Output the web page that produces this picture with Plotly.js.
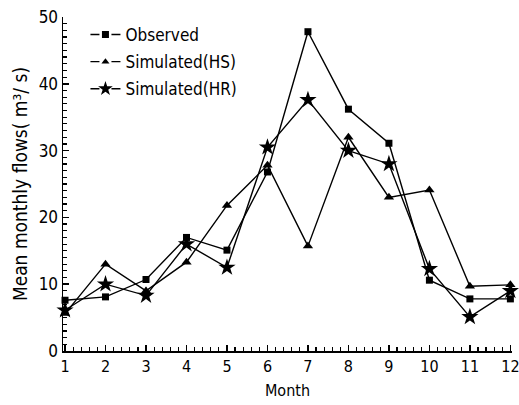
<!DOCTYPE html>
<html>
<head>
<meta charset="utf-8">
<script src="https://cdn.plot.ly/plotly-3.0.1.min.js"></script>
<style>html,body{margin:0;padding:0;background:#fff;}#chart{width:519px;height:405px;}</style>
</head>
<body>
<div id="chart"></div>
<script>
var months = [1,2,3,4,5,6,7,8,9,10,11,12];
var observed = [7.6, 8.1, 10.7, 17.0, 15.1, 26.8, 47.8, 36.2, 31.1, 10.6, 7.8, 7.8];
var simHS =    [5.6, 13.0, 9.0, 13.3, 21.8, 27.8, 15.7, 32.0, 23.0, 24.1, 9.7, 9.9];
var simHR =    [6.1, 10.0, 8.3, 16.0, 12.5, 30.5, 37.6, 30.0, 28.0, 12.3, 5.1, 9.0];
var seriesNames = ['Observed', 'Simulated(HS)', 'Simulated(HR)'];
var FONT = '"DejaVu Sans Condensed", "Liberation Sans Narrow", sans-serif';

var symbols = ['square', 'triangle-up', 'star'];
var sizes = [7, 9, 13];
var seriesData = [observed, simHS, simHR];
var traces = [];
for (var i = 0; i < 3; i++) {
  traces.push({
    x: months, y: seriesData[i], mode: 'lines+markers', type: 'scatter',
    line: {color: '#000', width: 1.4},
    marker: {symbol: symbols[i], size: sizes[i], color: '#000'},
    cliponaxis: false, showlegend: false
  });
}
for (var j = 0; j < 3; j++) {
  traces.push({
    x: [null], y: [null], mode: 'lines+markers', type: 'scatter', name: seriesNames[j],
    legendgroup: 'g' + j,
    line: {color: '#000', width: 1.4, dash: '9px,12px'},
    marker: {symbol: symbols[j], size: j === 2 ? 11 : 7, color: '#000'},
    showlegend: true
  });
}

var layout = {
  width: 519, height: 405,
  margin: {l: 63, r: 7, t: 17, b: 54},
  paper_bgcolor: '#fff', plot_bgcolor: '#fff',
  font: {family: FONT, color: '#000', size: 15},
  showlegend: true,
  legend: {x: 0.05, y: 1.0, xanchor: 'left', yanchor: 'top', bgcolor: 'rgba(0,0,0,0)',
           font: {family: FONT, size: 17, color: '#000'}, tracegroupgap: 2, itemwidth: 30},
  xaxis: {
    range: [0.95, 12.04], tickmode: 'array', tickvals: months, ticktext: months.map(String),
    ticklabeloverflow: 'allow',
    showline: true, linecolor: '#000', linewidth: 1.5, showgrid: false, zeroline: false,
    ticks: 'inside', ticklen: 6, tickwidth: 1.5, tickcolor: '#000',
    minor: {dtick: 0.2, tick0: 1, ticks: 'inside', ticklen: 4, tickwidth: 1.2, tickcolor: '#000', showgrid: false},
    tickfont: {family: FONT, size: 16},
    title: {text: 'Month', font: {family: FONT, size: 16}, standoff: 10}
  },
  yaxis: {
    range: [0, 50], tickvals: [0,10,20,30,40,50],
    showline: true, linecolor: '#000', linewidth: 1.5, showgrid: false, zeroline: false,
    ticks: 'inside', ticklen: 6, tickwidth: 1.5, tickcolor: '#000',
    minor: {dtick: 1, ticks: 'inside', ticklen: 3.5, tickwidth: 1.2, tickcolor: '#000', showgrid: false},
    tickfont: {family: FONT, size: 17},
    title: {text: 'Mean monthly flows( m\u00b3/ s)', font: {family: FONT, size: 19}, standoff: 6}
  }
};
Plotly.newPlot('chart', traces, layout, {staticPlot: true, displayModeBar: false});
</script>
</body>
</html>
